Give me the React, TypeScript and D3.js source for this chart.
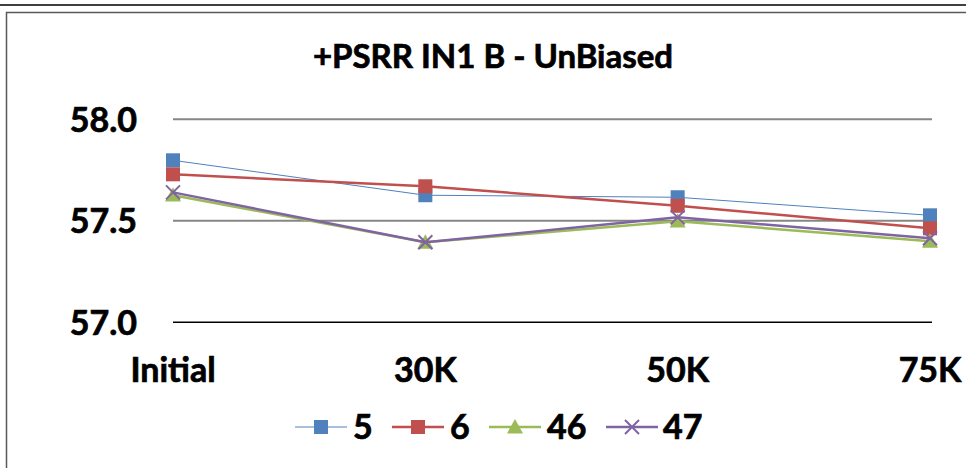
import React from "react";
import * as d3 from "d3";

const categories = ["Initial", "30K", "50K", "75K"];
const yTicks = [57.0, 57.5, 58.0];

const s5 = [57.798, 57.626, 57.616, 57.527];
const s6 = [57.729, 57.670, 57.574, 57.463];
const s46 = [57.626, 57.394, 57.498, 57.399];
const s47 = [57.640, 57.394, 57.517, 57.414];

const seriesNames = ["5", "6", "46", "47"];

const W = 966;
const H = 468;
const FONT = "Lato, 'Open Sans', sans-serif";

type Series = { name: string; values: number[]; color: string; width: number; marker: "square" | "triangle" | "x" };

const series: Series[] = [
    { name: seriesNames[0], values: s5, color: "#4F81BD", width: 1, marker: "square" },
    { name: seriesNames[1], values: s6, color: "#C0504D", width: 2.5, marker: "square" },
    { name: seriesNames[2], values: s46, color: "#9BBB59", width: 2.5, marker: "triangle" },
    { name: seriesNames[3], values: s47, color: "#8064A2", width: 2.5, marker: "x" },
];

// heavier text to look like Calibri bold
const boldText = { fontFamily: FONT, fontWeight: "bold" as const, stroke: "#000", strokeWidth: 0.7 };

function Marker({ kind, x, y, color }: { kind: string; x: number; y: number; color: string }) {
    if (kind === "square") {
        return <rect x={x - 7} y={y - 7} width={14} height={14} fill={color} />;
    }
    if (kind === "triangle") {
        const s = 8;
        return <path d={`M${x},${y - s} L${x + s},${y + s * 0.8} L${x - s},${y + s * 0.8}Z`} fill={color} />;
    }
    const s = 7;
    return (
        <path d={`M${x - s},${y - s} L${x + s},${y + s} M${x - s},${y + s} L${x + s},${y - s}`}
            stroke={color} strokeWidth={2} fill="none" />
    );
}

export default function App() {
    const x = d3.scalePoint<string>().domain(categories).range([173, 930]);
    const y = d3.scaleLinear().domain([57, 58]).range([322.3, 119.3]);

    const line = d3.line<number>()
        .x((_, i) => x(categories[i]) as number)
        .y(d => y(d));

    // legend layout
    const legendY = 427;
    const legendItems = [
        { lineX: 295, labelX: 353 },
        { lineX: 392, labelX: 450 },
        { lineX: 489, labelX: 547 },
        { lineX: 606, labelX: 663 },
    ];

    return (
        <svg width={W} height={H} style={{ position: "absolute", left: 0, top: 0, background: "#fff" }}>
            {/* frames */}
            <line x1={0} x2={W} y1={5} y2={5} stroke="#404040" strokeWidth={2} />
            <rect x={6.5} y={12.5} width={1000} height={500} fill="none" stroke="#595959" strokeWidth={1.5} />

            <text x={493} y={68} textAnchor="middle" {...boldText} fontSize={33}>
                +PSRR IN1 B - UnBiased
            </text>

            {/* gridlines */}
            {yTicks.map(t => (
                <g key={t}>
                    <line x1={173} x2={932} y1={y(t)} y2={y(t)}
                        stroke={t === 57 ? "#000" : "#868686"} strokeWidth={t === 57 ? 1.5 : 2} />
                    <text x={137} y={y(t)} dy="0.36em" textAnchor="end" {...boldText}
                        fontSize={34}>{t.toFixed(1)}</text>
                </g>
            ))}

            {categories.map(c => (
                <text key={c} x={x(c)} y={382} textAnchor="middle" {...boldText}
                    fontSize={34}>{c}</text>
            ))}

            {series.map(s => (
                <g key={s.name}>
                    <path d={line(s.values) || ""} fill="none" stroke={s.color} strokeWidth={s.width} />
                    {s.values.map((v, i) => (
                        <Marker key={i} kind={s.marker} x={x(categories[i]) as number} y={y(v)} color={s.color} />
                    ))}
                </g>
            ))}

            {/* legend */}
            {series.map((s, i) => (
                <g key={"lg" + s.name}>
                    <line x1={legendItems[i].lineX} x2={legendItems[i].lineX + 52} y1={legendY} y2={legendY}
                        stroke={s.color} strokeWidth={s.width} />
                    <Marker kind={s.marker} x={legendItems[i].lineX + 26} y={legendY} color={s.color} />
                    <text x={legendItems[i].labelX} y={legendY} dy="0.36em" {...boldText}
                        fontSize={34}>{s.name}</text>
                </g>
            ))}
        </svg>
    );
}
